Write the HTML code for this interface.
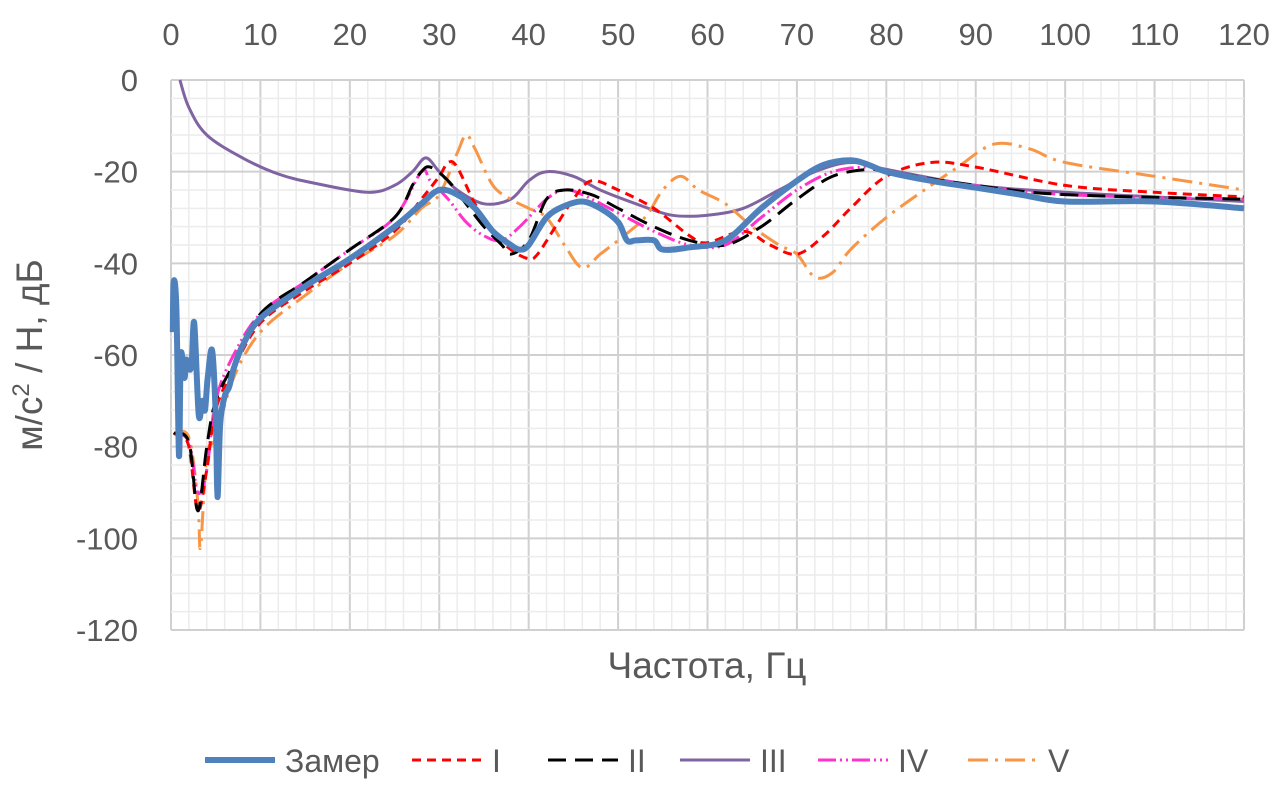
<!DOCTYPE html>
<html><head><meta charset="utf-8">
<style>
body{margin:0;background:#fff;width:1278px;height:785px;overflow:hidden;font-family:"Liberation Sans",sans-serif}
text{font-family:"Liberation Sans","DejaVu Sans",sans-serif;fill:#595959}
</style></head><body>
<svg id="chart" width="1278" height="785" xmlns="http://www.w3.org/2000/svg">
<g id="grid"></g>
<g id="series"></g>
<g id="ticks"></g>
<text x="707" y="678" font-size="37" text-anchor="middle">Частота, Гц</text>
<text transform="translate(42,355) rotate(-90)" font-size="37" text-anchor="middle">м/с<tspan font-size="24" dy="-13">2</tspan><tspan dy="13"> / Н, дБ</tspan></text>
<g id="legend"></g>
</svg>
<script>
const xTicks=[0,10,20,30,40,50,60,70,80,90,100,110,120];
const yTicks=[0,-20,-40,-60,-80,-100,-120];
const seriesNames=["Замер","I","II","III","IV","V"];
const zamerF=[0.2,0.3,0.6,0.9,1.1,1.5,1.7,2,2.3,2.6,3.1,3.5,3.8,4.1,4.6,5,5.2,5.5,6,6.5,7,8,10,15,20,25,28,30,32,34,36,38,39,40,42,44,46,48,50,51,52,54,55,58,62,66,70,73,76,78,80,85,90,95,100,110,120];
const zamerV=[-55,-44,-50,-82,-60,-65,-61,-63,-62,-53,-73,-70,-72,-65,-59,-73,-91,-75,-69,-67,-63,-58,-52,-45,-39,-32,-27,-24,-25,-28,-33,-36,-37,-36,-30,-27.5,-26.5,-28,-31,-35,-35,-35,-37,-36.5,-35,-28,-22,-18.5,-17.5,-18.5,-20,-22,-23.5,-25,-26.5,-26.5,-28];
const s1F=[0.3,1,2,3,4,5,7,10,15,20,25,28,30,31,32,34,36,38,40,41,43,45,47,50,54,58,60,64,67,70,73,76,80,85,90,100,110,120];
const s1V=[-77,-78,-80,-94,-85,-72,-63,-53,-46,-40,-33,-26,-21,-18,-19,-27,-33,-37,-39,-38,-32,-26,-22,-24,-28,-34,-35.5,-33,-36,-38,-34,-28,-21,-18,-19,-23,-24.5,-25.5];
const s2F=[0.3,2,3,4,5,7,10,15,20,25,27,28,29,31,33,35,37,38,40,42,44,47,50,54,58,62,66,70,74,78,80,90,100,120];
const s2V=[-77,-79,-94,-80,-70,-62,-51,-44,-37,-30,-23,-20,-19,-22,-27,-32,-36,-38,-35,-26,-24,-25,-28,-32,-35,-36,-32,-26,-21,-19.5,-20,-23,-25,-26];
const s3F=[1,2,4,8,12,16,22,25,27,28.5,30,32,35,38,40,42,45,48,52,56,60,64,68,72,76,80,90,100,110,120];
const s3V=[0,-6,-12,-17,-20.5,-22.5,-24.5,-23,-20,-17,-20,-24,-27,-26,-22,-20,-21,-24,-27,-29.5,-29.5,-28,-24,-20,-18,-19.5,-23,-24.5,-25.5,-26.5];
const s4F=[0.3,2,3,4,5,7,10,15,20,25,28,29,31,33,35,37,39,42,44,46,50,54,58,62,66,70,74,78,80,90,100,120];
const s4V=[-77,-79,-90,-85,-70,-60,-51,-44,-37,-30,-20,-22,-26,-31,-34,-35,-32,-26,-24,-25,-29,-33,-36,-36,-30,-24,-20,-19,-20,-23,-25,-26];
const s5F=[0.3,2,3,3.3,4,5,7,10,15,20,25,28,30,32,33,34,36,38,40,42,44,46,48,50,53,55,57,59,62,65,68,70,72,74,76,80,85,88,92,96,100,110,120];
const s5V=[-77,-78,-92,-102,-82,-78,-65,-55,-47,-40,-34,-28,-25,-16,-12,-15,-23,-26,-28,-30,-36,-41,-38,-35,-30,-24,-21,-24,-27,-32,-36,-38,-43,-42,-37,-30,-23,-19,-14,-15,-18,-21,-24];

const X0=171,X1=1244,Y0=80,Y1=630;
const sx=f=>X0+(f-0)/(120-0)*(X1-X0);
const sy=v=>Y0+(0-v)/(0-(-120))*(Y1-Y0);
const NS="http://www.w3.org/2000/svg";
function mk(tag,attrs,parent){const e=document.createElementNS(NS,tag);for(const k in attrs)e.setAttribute(k,attrs[k]);parent.appendChild(e);return e;}
function smooth(P){let d='M'+P[0][0].toFixed(1)+','+P[0][1].toFixed(1);
 for(let i=0;i<P.length-1;i++){const p0=P[Math.max(0,i-1)],p1=P[i],p2=P[i+1],p3=P[Math.min(P.length-1,i+2)];
  const c1=[p1[0]+(p2[0]-p0[0])/6,p1[1]+(p2[1]-p0[1])/6],c2=[p2[0]-(p3[0]-p1[0])/6,p2[1]-(p3[1]-p1[1])/6];
  d+=' C'+c1.map(v=>v.toFixed(1)).join(',')+' '+c2.map(v=>v.toFixed(1)).join(',')+' '+p2[0].toFixed(1)+','+p2[1].toFixed(1);}
 return d;}
const grid=document.getElementById('grid');
for(let f=0;f<=120;f+=2){const major=f%10===0;
 const l=mk('line',{x1:sx(f),x2:sx(f),y1:Y0,y2:Y1,stroke:major?'#d0d0d0':'#ececec','stroke-width':major?2:1.5},grid);
 
 }
for(let v=0;v>=-120;v-=4){const major=v%20===0;
 const l=mk('line',{x1:X0,x2:X1,y1:sy(v),y2:sy(v),stroke:major?'#d0d0d0':'#ececec','stroke-width':major?2:1.5},grid);
 
 }
const ticks=document.getElementById('ticks');
xTicks.forEach(t=>{const e=mk('text',{x:sx(t),y:45,'font-size':31,'text-anchor':'middle'},ticks);e.textContent=t;
 
 });
yTicks.forEach(t=>{const e=mk('text',{x:138,y:sy(t)+11,'font-size':31,'text-anchor':'end'},ticks);e.textContent=t;
 
 });
const styles=[
 {c:'#4f81bd',w:6,d:''},
 {c:'#ff0000',w:3,d:'9,6'},
 {c:'#000000',w:3,d:'18,9'},
 {c:'#8064a2',w:3,d:''},
 {c:'#ff33cc',w:3,d:'18,4,2,4,2,4'},
 {c:'#f79646',w:3,d:'20,7,3,7'}];
const data=[[zamerF,zamerV],[s1F,s1V],[s2F,s2V],[s3F,s3V],[s4F,s4V],[s5F,s5V]];
const sg=document.getElementById('series');
const order=[3,5,4,1,2,0];
order.forEach(i=>{const [F,V]=data[i];const st=styles[i];
 const P=F.map((f,k)=>[sx(f),sy(V[k])]);
 const p=mk('path',{d:smooth(P),fill:'none',stroke:st.c,'stroke-width':st.w,'stroke-dasharray':st.d,'stroke-linejoin':'round'},sg);
 
 });
const lg=document.getElementById('legend');
const lx=[205,412,548,680,818,968];
seriesNames.forEach((n,i)=>{const st=styles[i];const g=mk('g',{},lg);
 
 
 mk('line',{x1:lx[i],x2:lx[i]+70,y1:760,y2:760,stroke:st.c,'stroke-width':st.w,'stroke-dasharray':st.d},g);
 const t=mk('text',{x:lx[i]+80,y:772,'font-size':32},g);t.textContent=n;});
</script>
</body></html>
